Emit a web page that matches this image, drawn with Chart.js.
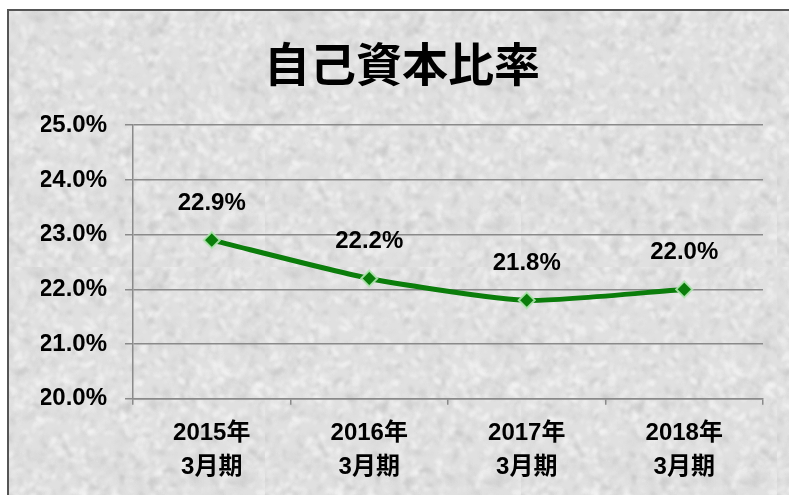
<!DOCTYPE html>
<html>
<head>
<meta charset="utf-8">
<script src="https://cdn.jsdelivr.net/npm/chart.js@4.4.0/dist/chart.umd.min.js"></script>
<style>
  html, body { margin: 0; padding: 0; background: #fff; width: 789px; height: 495px; overflow: hidden; }
  #frame { position: absolute; left: 7px; top: 9px; width: 800px; height: 500px; border: 2px solid #555; background: #dedede; }
  #wrap { position: absolute; left: 0; top: 0; width: 789px; height: 495px; }
</style>
</head>
<body>
<div id="frame"></div>
<div id="wrap"><canvas id="myChart" width="789" height="495"></canvas></div>
<script>
'use strict'
const titleText = '自己資本比率';
const years = ['2015年', '2016年', '2017年', '2018年'];
const periodLabel = '3月期';
const ratios = [22.9, 22.2, 21.8, 22.0];
const yMin = 20, yMax = 25;

const FONT = "'Liberation Sans', Arial, 'Noto Sans CJK JP', sans-serif";

//granite like texture for the frame, seeded so it is the same every time
function makeTexture(){
    const c = document.createElement('canvas');
    c.width = 256; c.height = 256;
    const ctx = c.getContext('2d');
    let seed = 12345;
    function rnd(){ seed = (seed * 1103515245 + 12345) % 2147483648; return seed / 2147483648; }
    ctx.fillStyle = '#e0e0e0';
    ctx.fillRect(0, 0, 256, 256);
    ctx.filter = 'blur(1.5px)';
    for (let i = 0; i < 2200; i++){
        const x = rnd()*256, y = rnd()*256;
        const s = 1 + rnd()*3;
        const g = rnd() < 0.5 ? 240 + Math.floor(rnd()*15) : 190 + Math.floor(rnd()*30);
        ctx.fillStyle = `rgba(${g},${g},${g},0.45)`;
        ctx.beginPath();
        ctx.ellipse(x, y, s*1.4, s*0.7, rnd()*3, 0, Math.PI*2);
        ctx.fill();
    }
    return c.toDataURL();
}
document.getElementById('frame').style.backgroundImage = `url(${makeTexture()})`;

//plugin that writes the values above the points
const valueLabels = {
    id: 'valueLabels',
    afterDatasetsDraw(chart){
        const ctx = chart.ctx;
        const meta = chart.getDatasetMeta(0);
        ctx.save();
        ctx.font = `bold 24px ${FONT}`;
        ctx.fillStyle = '#000';
        ctx.textAlign = 'center';
        ctx.textBaseline = 'middle';
        meta.data.forEach((pt, i) => {
            ctx.fillText(ratios[i].toFixed(1) + '%', pt.x, pt.y - 37);
        });
        ctx.restore();
    }
};

const config = {
    type: 'line',
    data: {
        labels: years.map(y => [y, periodLabel]),
        datasets: [{
            data: ratios,
            borderColor: '#0b7d0b',
            borderWidth: 5,
            tension: 0.2,
            pointStyle: 'rectRot',
            pointRadius: 8,
            pointHoverRadius: 8,
            pointBackgroundColor: '#0b7d0b',
            pointBorderColor: 'rgba(175,230,175,0.9)',
            pointBorderWidth: 2
        }]
    },
    options: {
        responsive: false,
        animation: false,
        events: [],
        layout: { padding: { left: 41, right: 26, top: 0, bottom: 0 } },
        plugins: {
            legend: { display: false },
            tooltip: { enabled: false },
            title: {
                display: true,
                text: titleText,
                color: '#000',
                font: { family: "'Noto Sans CJK JP', sans-serif", size: 46, weight: 'bold', lineHeight: 1.2 },
                padding: { top: 36, bottom: 34 }
            }
        },
        scales: {
            y: {
                min: yMin,
                max: yMax,
                afterFit: s => { s.width = 92; },
                ticks: {
                    stepSize: 1,
                    color: '#000',
                    padding: 18,
                    font: { family: FONT, size: 24, weight: 'bold' },
                    callback: v => v.toFixed(1) + '%'
                },
                grid: { color: '#8a8a8a', lineWidth: 1.5, tickLength: 8 },
                border: { color: '#8a8a8a', width: 1.5 }
            },
            x: {
                offset: true,
                ticks: {
                    color: '#000',
                    padding: 11,
                    font: { family: FONT, size: 24, weight: 'bold', lineHeight: 1.42 }
                },
                grid: { offset: true, drawOnChartArea: false, drawTicks: true, tickLength: 6, color: '#8a8a8a', lineWidth: 1.5 },
                border: { color: '#8a8a8a', width: 1.5 }
            }
        }
    },
    plugins: [valueLabels]
};

let myChart = new Chart(document.getElementById('myChart'), config);
</script>
</body>
</html>
